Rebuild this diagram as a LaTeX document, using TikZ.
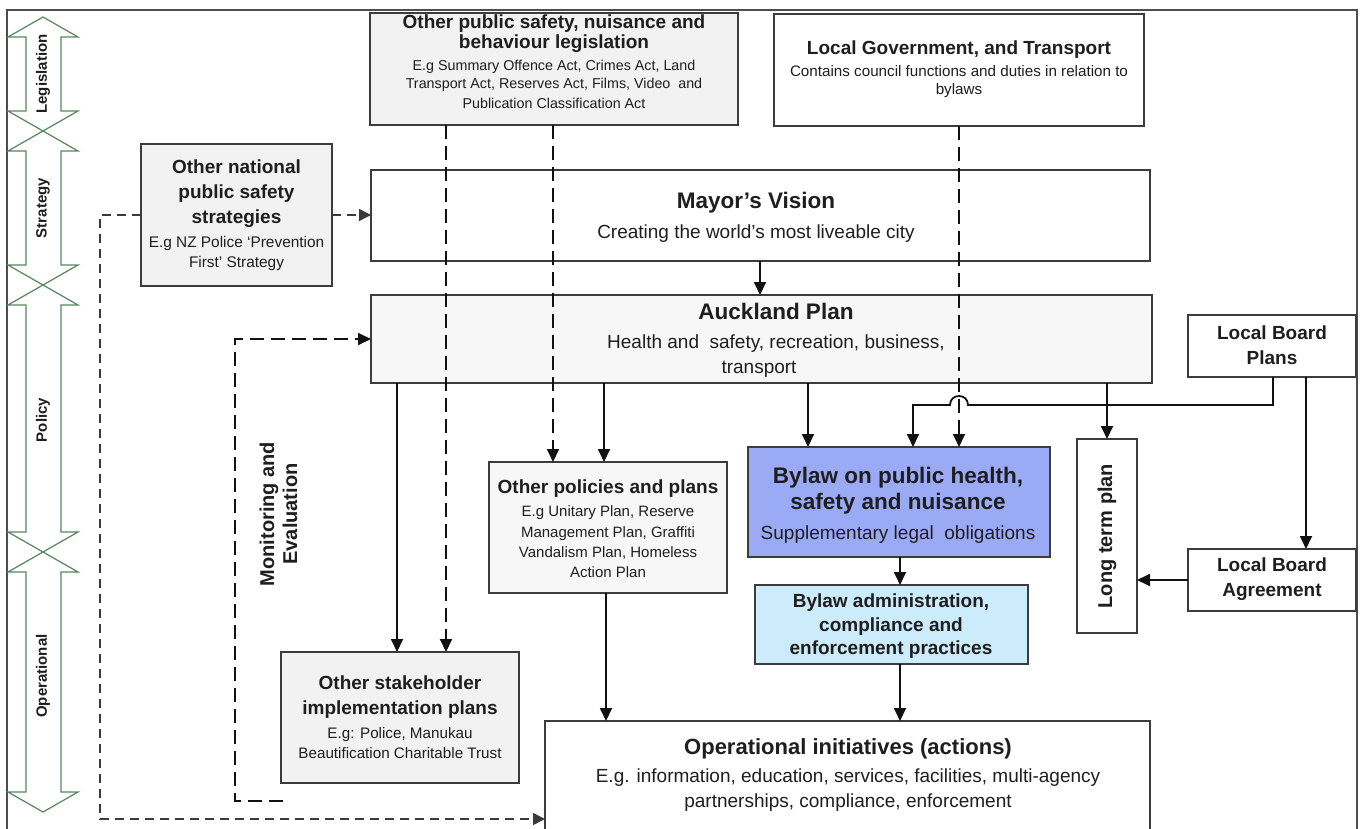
\documentclass[tikz,border=0pt]{standalone}
\usepackage{fontspec}
\setmainfont{Liberation Sans}
\usetikzlibrary{arrows.meta}
\definecolor{framecol}{HTML}{4D4D4D}
\definecolor{bordercol}{HTML}{3C3C3C}
\definecolor{grayA}{HTML}{F2F2F2}
\definecolor{grayB}{HTML}{F7F7F7}
\definecolor{bylawblue}{RGB}{155,170,245}
\definecolor{admincyan}{RGB}{204,236,252}
\definecolor{lvlgreen}{RGB}{88,134,94}
\definecolor{txtcol}{HTML}{1E1E1E}
\definecolor{linecol}{HTML}{111111}
\definecolor{dashcol}{HTML}{3A3A3A}
\newcommand\Tbig{\fontsize{22.5pt}{27pt}\selectfont\bfseries}
\newcommand\Tmid{\fontsize{19pt}{20pt}\selectfont\bfseries}
\begin{document}
\lineskiplimit=-100pt
\begin{tikzpicture}[x=1pt,y=-1pt,
  box/.style={draw=bordercol,line width=1.4pt,inner sep=0pt,outer sep=0pt},
  txt/.style={inner sep=0pt,outer sep=0pt,align=center,text=txtcol},
  lvl/.style={draw=lvlgreen,line width=1.2pt,line join=miter},
  lvltxt/.style={txt,rotate=90,font=\fontsize{15pt}{18pt}\selectfont\bfseries},
  arr/.style={draw=linecol,line width=1.8pt,-{Triangle[width=12pt,length=13pt]}},
  dashthick/.style={draw=linecol,line width=1.9pt,dash pattern=on 14pt off 7pt,-{Triangle[width=12pt,length=13pt]}},
  dashthin/.style={draw=dashcol,line width=1.4pt,dash pattern=on 9pt off 6pt,-{Triangle[width=12pt,length=12pt]}},
]
\useasboundingbox (0,0) rectangle (1362,829);
\fill[white] (0,0) rectangle (1362,829);

% frame
\draw[framecol,line width=1.4pt] (7,829) -- (7,10) -- (1357,10) -- (1357,829);

% level arrows (left column)
\draw[lvl] (43,17) -- (78,37) -- (61,37) -- (61,111) -- (78,111) -- (43,131) -- (8,111) -- (26,111) -- (26,37) -- (8,37) -- cycle;
\draw[lvl] (43,131) -- (78,151) -- (61,151) -- (61,265) -- (78,265) -- (43,285) -- (8,265) -- (26,265) -- (26,151) -- (8,151) -- cycle;
\draw[lvl] (43,285) -- (78,305) -- (61,305) -- (61,532) -- (78,532) -- (43,552) -- (8,532) -- (26,532) -- (26,305) -- (8,305) -- cycle;
\draw[lvl] (43,552) -- (78,572) -- (61,572) -- (61,792) -- (78,792) -- (43,812) -- (8,792) -- (26,792) -- (26,572) -- (8,572) -- cycle;
\node[lvltxt] (lLeg) at (43,74) {Legislation};
\node[lvltxt] (lStr) at (43,208) {Strategy};
\node[lvltxt] (lPol) at (43,420) {Policy};
\node[lvltxt] (lOp) at (43,676) {Operational};

% boxes
\node[box,fill=grayA,minimum width=368pt,minimum height=112pt] (leg) at (554,69) {};
\node[box,fill=white,minimum width=370pt,minimum height=112pt] (lg) at (959,70) {};
\node[box,fill=grayA,minimum width=191pt,minimum height=142pt] (on) at (236.5,215) {};
\node[box,fill=white,minimum width=779pt,minimum height=91pt] (mayor) at (760.5,215.5) {};
\node[box,fill=grayB,minimum width=781pt,minimum height=88pt] (ap) at (761.5,339) {};
\node[box,fill=white,minimum width=168pt,minimum height=62pt] (lbp) at (1272,346) {};
\node[box,fill=grayB,minimum width=238pt,minimum height=131pt] (pol) at (608,527.5) {};
\node[box,fill=bylawblue,minimum width=302pt,minimum height=110pt] (bylaw) at (899,502) {};
\node[box,fill=white,minimum width=60pt,minimum height=194pt] (ltp) at (1107,536) {};
\node[box,fill=white,minimum width=168pt,minimum height=62pt] (lba) at (1272,580) {};
\node[box,fill=admincyan,minimum width=273pt,minimum height=79pt] (admin) at (891.5,624.5) {};
\node[box,fill=grayA,minimum width=238pt,minimum height=131pt] (stake) at (400,717.5) {};
\node[box,fill=white,minimum width=605pt,minimum height=120pt] (ops) at (847.5,781) {};

% helper coordinates
\coordinate (x397) at (397,0);
\coordinate (x446) at (446,0);
\coordinate (x553) at (553,0);
\coordinate (x604) at (604,0);
\coordinate (x606) at (606,0);
\coordinate (x760) at (760,0);
\coordinate (x808) at (808,0);
\coordinate (x900) at (900,0);
\coordinate (x913) at (913,0);
\coordinate (x1107) at (1107,0);
\coordinate (x1273) at (1273,0);
\coordinate (x1306) at (1306,0);
\coordinate (xL) at (100,0);
\coordinate (xM) at (235,0);
\coordinate (yHop) at (0,405);
\coordinate (yBot) at (0,819);
\coordinate (hopR) at (968,405);
\coordinate (hopL) at (950,405);
\coordinate (hopRc) at (968,393);
\coordinate (hopLc) at (950,393);
\coordinate (mstart) at (283,801);

% solid connectors
\draw[arr] (mayor.south -| x760) -- (ap.north -| x760);
\draw[arr] (ap.south -| x397) -- (stake.north -| x397);
\draw[arr] (ap.south -| x604) -- (pol.north -| x604);
\draw[arr] (ap.south -| x808) -- (bylaw.north -| x808);
\draw[arr] (ap.south -| x1107) -- (ltp.north);
\draw[arr] (lbp.south -| x1306) -- (lba.north -| x1306);
\draw[arr] (lba.west) -- (ltp.east |- lba.west);
\draw[arr] (bylaw.south -| x900) -- (admin.north -| x900);
\draw[arr] (admin.south -| x900) -- (ops.north -| x900);
\draw[arr] (pol.south -| x606) -- (ops.north -| x606);
\draw[arr] (lbp.south -| x1273) -- (x1273 |- yHop) -- (hopR) .. controls (hopRc) and (hopLc) .. (hopL) -- (x913 |- yHop) -- (bylaw.north -| x913);

% dashed connectors
\draw[dashthick] (leg.south -| x446) -- (stake.north -| x446);
\draw[dashthick] (leg.south -| x553) -- (pol.north -| x553);
\draw[dashthick] (lg.south) -- (bylaw.north -| lg.south);
\draw[dashthin] (on.east) -- (mayor.west |- on.east);
\draw[dashthin] (on.west) -- (xL |- on.west) -- (xL |- yBot) -- (ops.west |- yBot);
\draw[dashthick] (mstart) -- (xM |- mstart) -- (xM |- ap.west) -- (ap.west);

% texts
\node[txt,font=\fontsize{14.3pt}{20pt}\selectfont] (legt) at (554,62) {{\Tmid Other public safety, nuisance and}\\{\Tmid behaviour legislation}\\[1.6pt]E.g Summary Offence Act, Crimes Act, Land\\[-1.6pt]Transport Act, Reserves Act, Films, Video~ and\\Publication Classification Act};
\node[txt,font=\fontsize{15.2pt}{18pt}\selectfont] (lgt) at (959,69) {{\Tmid Local Government, and Transport}\\[4pt]Contains council functions and duties in relation to\\bylaws};
\node[txt,font=\fontsize{15.4pt}{20pt}\selectfont] (ont) at (236.5,215) {{\Tmid Other national}\\[5pt]{\Tmid public safety}\\[5pt]{\Tmid strategies}\\[4pt]E.g NZ Police ‘Prevention\\First’ Strategy};
\node[txt,font=\fontsize{19pt}{30pt}\selectfont] (mayort) at (756,217) {{\Tbig Mayor’s Vision}\\Creating the world’s most liveable city};
\node[txt,font=\fontsize{19pt}{25pt}\selectfont] (apt) at (776,340) {{\Tbig Auckland Plan}\\[4pt]Health and~ safety, recreation, business,\\transport\hspace*{34pt}};
\node[txt,font=\fontsize{19pt}{26pt}\selectfont] (bylawt) at (898,505) {{\Tbig Bylaw on public health,}\\{\Tbig safety and nuisance}\\[4pt]Supplementary legal~ obligations};
\node[txt,font=\fontsize{19pt}{23.5pt}\selectfont\bfseries] (admint) at (891,626.5) {Bylaw administration,\\compliance and\\enforcement practices};
\node[txt,font=\fontsize{15pt}{20pt}\selectfont] (polt) at (608,529) {{\Tmid Other policies and plans}\\[3pt]E.g Unitary Plan, Reserve\\[1pt]Management Plan, Graffiti\\Vandalism Plan, Homeless\\Action Plan};
\node[txt,font=\fontsize{15.2pt}{20pt}\selectfont] (staket) at (400,717.5) {{\Tmid Other stakeholder}\\[5pt]{\Tmid implementation plans}\\[4pt]E.g: Police, Manukau\\Beautification Charitable Trust};
\node[txt,font=\fontsize{19pt}{25pt}\selectfont\bfseries] (lbpt) at (1272,345.5) {Local Board\\Plans};
\node[txt,font=\fontsize{19pt}{25pt}\selectfont\bfseries] (lbat) at (1272,579.5) {Local Board\\Agreement};
\node[txt,rotate=90,font=\fontsize{20pt}{24pt}\selectfont\bfseries] (ltpt) at (1107,536) {Long term plan};
\node[txt,font=\fontsize{19pt}{25pt}\selectfont] (opst) at (848,774.5) {{\fontsize{22pt}{25pt}\selectfont\bfseries Operational initiatives (actions)}\\[3pt]E.g. information, education, services, facilities, multi-agency\\partnerships, compliance, enforcement};
\node[txt,rotate=90,font=\fontsize{20pt}{23pt}\selectfont\bfseries] (mont) at (278.5,514) {Monitoring and\\Evaluation};
\end{tikzpicture}
\end{document}
